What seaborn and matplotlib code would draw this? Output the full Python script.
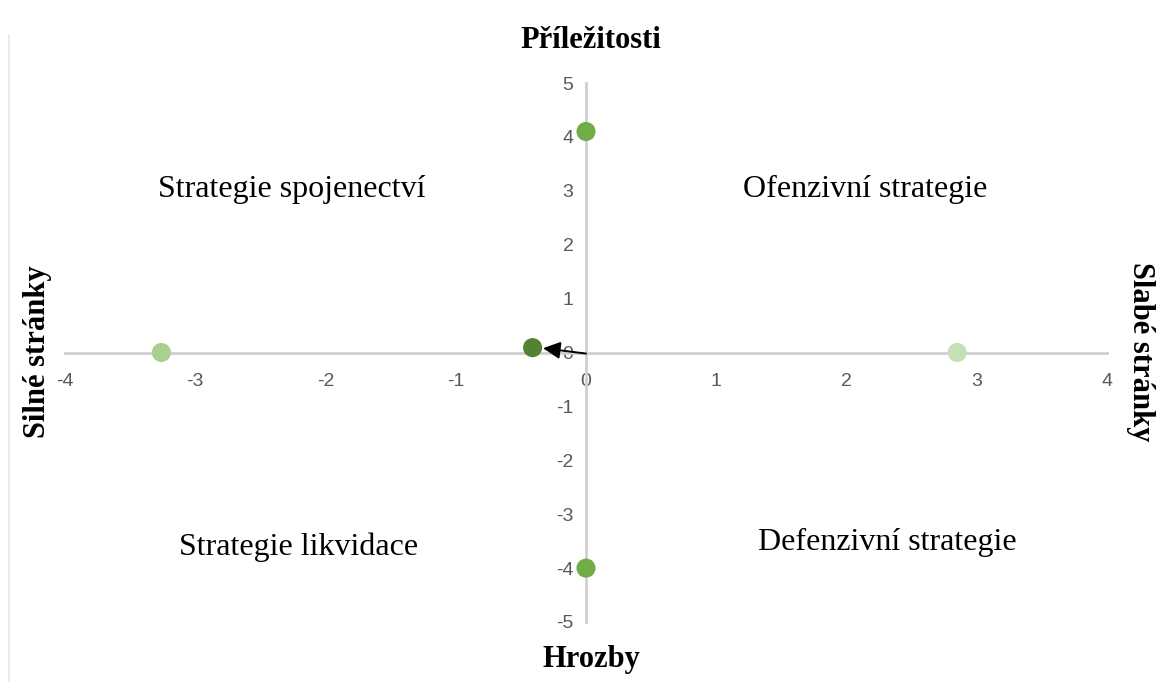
import matplotlib
matplotlib.use("Agg")
import matplotlib.pyplot as plt
import seaborn as sns
import pandas as pd
from matplotlib.lines import Line2D

# Data
point_x = [0.0, 0.0, -3.26, 2.85, -0.41]
point_y = [4.1, -4.0, 0.0, 0.0, 0.09]
point_names = ["Příležitosti", "Hrozby", "Silné stránky", "Slabé stránky", "Výsledek"]
point_colors = ["#70ad47", "#70ad47", "#a9d08e", "#c5e0b4", "#548235"]

x_ticks = [-4, -3, -2, -1, 0, 1, 2, 3, 4]
y_ticks = [-5, -4, -3, -2, -1, 0, 1, 2, 3, 4, 5]

quadrant_labels = ["Strategie spojenectví", "Ofenzivní strategie",
                   "Strategie likvidace", "Defenzivní strategie"]
quadrant_x = [-2.26, 2.14, -2.21, 2.31]
quadrant_y = [3.03, 3.03, -3.62, -3.53]

sns.set_theme(style="white")
plt.rcParams['font.family'] = ['Liberation Sans', 'DejaVu Sans']
plt.rcParams['axes.unicode_minus'] = False

df = pd.DataFrame({"x": point_x, "y": point_y, "name": point_names})

fig = plt.figure(figsize=(11.76, 6.82), dpi=100)
ax = fig.add_axes([65/1176, 60/682, 1042/1176, 539/682])

sns.scatterplot(data=df, x="x", y="y", hue="name", palette=dict(zip(point_names, point_colors)),
                s=190, edgecolor="none", legend=False, ax=ax, zorder=5, clip_on=False)

ax.set_xlim(-4, 4)
ax.set_ylim(-5, 5)
ax.set_xticks(x_ticks)
ax.set_yticks(y_ticks)
ax.spines['left'].set_position(('data', 0))
ax.spines['bottom'].set_position(('data', 0))
for s in ['top', 'right']:
    ax.spines[s].set_visible(False)
for s in ['left', 'bottom']:
    ax.spines[s].set_color('#d0d0d0')
    ax.spines[s].set_linewidth(2)
    ax.spines[s].set_zorder(1)
ax.tick_params(axis='both', length=0, labelsize=14, labelcolor='#595959')
ax.tick_params(axis='x', pad=15)
ax.tick_params(axis='y', pad=9)
ax.set_xlabel("")
ax.set_ylabel("")

# arrow from origin to result point
ax.annotate("", xy=(point_x[4] + 0.08, point_y[4] - 0.01), xytext=(0.0, -0.02),
            arrowprops=dict(arrowstyle="-|>", color="black", lw=1.4, mutation_scale=26,
                            shrinkA=0, shrinkB=0),
            zorder=6)

serif = ['Liberation Serif', 'DejaVu Serif']
for lbl, qx, qy in zip(quadrant_labels, quadrant_x, quadrant_y):
    ax.text(qx, qy, lbl, ha='center', va='center', fontsize=23, family=serif, color='black')

fig.text(591/1176, 1 - 40/682, "Příležitosti", ha='center', va='center', fontsize=22,
         fontweight='bold', family=serif, color='black')
fig.text(591/1176, 1 - 660/682, "Hrozby", ha='center', va='center', fontsize=22,
         fontweight='bold', family=serif, color='black')
fig.text(38/1176, 1 - 352/682, "Silné stránky", ha='center', va='center', fontsize=22,
         fontweight='bold', family=serif, rotation=90, color='black')
fig.text(1140/1176, 1 - 352/682, "Slabé stránky", ha='center', va='center', fontsize=22,
         fontweight='bold', family=serif, rotation=-90, color='black')

fig.add_artist(Line2D([9/1176, 9/1176], [0, 1 - 35/682], color='#e6e6e6', lw=1.2))

fig.savefig("out.png", dpi=100)
